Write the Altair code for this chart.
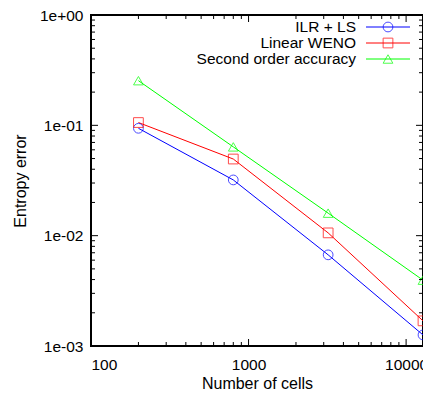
import altair as alt
import pandas as pd

# ---- data ----
cells = [200, 800, 3200, 12800]
ilr_ls = [0.094, 0.032, 0.0067, 0.00126]
linear_weno = [0.106, 0.0495, 0.0106, 0.00169]
second_order = [0.254, 0.0638, 0.016, 0.00395]

series_names = ["ILR + LS", "Linear WENO", "Second order accuracy"]
series_colors = ["#0000ff", "#ff0000", "#00ff00"]
point_shapes = ["circle", "square", "triangle-up"]

x_major = [100, 1000, 10000]
x_minor = [200, 300, 400, 500, 600, 700, 800, 900,
           2000, 3000, 4000, 5000, 6000, 7000, 8000, 9000]
y_major = [0.001, 0.01, 0.1, 1]
y_minor = [0.002, 0.003, 0.004, 0.005, 0.006, 0.007, 0.008, 0.009,
           0.02, 0.03, 0.04, 0.05, 0.06, 0.07, 0.08, 0.09,
           0.2, 0.3, 0.4, 0.5, 0.6, 0.7, 0.8, 0.9]

rows = []
for name, vals in zip(series_names, [ilr_ls, linear_weno, second_order]):
    for c, v in zip(cells, vals):
        rows.append({"cells": c, "error": v, "series": name})
df = pd.DataFrame(rows)
legend_df = pd.DataFrame({"series": series_names})

FONT = "Liberation Sans"
FS = 15.5
XDOM = [100, 12800]
YDOM = [0.001, 1]
W, H = 332, 331
MAJ = 7
MIN = 4


def xscale():
    return alt.Scale(type="log", domain=XDOM, nice=False, zero=False)


def yscale():
    return alt.Scale(type="log", domain=YDOM, nice=False, zero=False)


color_scale = alt.Scale(domain=series_names, range=series_colors)
shape_scale = alt.Scale(domain=series_names, range=point_shapes)
base = alt.Chart(df)

lines = base.mark_line(strokeWidth=1, clip=True).encode(
    x=alt.X("cells:Q", scale=xscale(), axis=alt.Axis(
        values=x_major, format="d", ticks=False, tickSize=0, domain=False, grid=False,
        labelPadding=11, title="Number of cells", titlePadding=3)),
    y=alt.Y("error:Q", scale=yscale(), axis=alt.Axis(
        values=y_major, ticks=False, tickSize=0, domain=False, grid=False,
        labelExpr="datum.value >= 1 ? '1e+00' : '1e-0' + format(-log(datum.value)/LN10, '.0f')",
        labelPadding=8, title="Entropy error", titlePadding=11)),
    color=alt.Color("series:N", scale=color_scale, legend=None),
)

points = base.mark_point(filled=False, size=95, strokeWidth=1, clip=True).encode(
    x=alt.X("cells:Q", scale=xscale(), axis=None),
    y=alt.Y("error:Q", scale=yscale(), axis=None),
    color=alt.Color("series:N", scale=color_scale, legend=None),
    shape=alt.Shape("series:N", scale=shape_scale, legend=None),
)

# ---- inward tick marks on all four sides (gnuplot style) ----
tick_layers = []
for vals, length in [(x_major, MAJ), (x_minor, MIN)]:
    tdf = pd.DataFrame({"v": vals})
    xv = alt.X("v:Q", scale=xscale(), axis=None)
    tick_layers.append(alt.Chart(tdf).mark_rule(color="black", strokeWidth=1).encode(
        x=xv, y=alt.value(H), y2=alt.value(H - length)))
    tick_layers.append(alt.Chart(tdf).mark_rule(color="black", strokeWidth=1).encode(
        x=xv, y=alt.value(0), y2=alt.value(length)))
for vals, length in [(y_major, MAJ), (y_minor, MIN)]:
    tdf = pd.DataFrame({"v": vals})
    yv = alt.Y("v:Q", scale=yscale(), axis=None)
    tick_layers.append(alt.Chart(tdf).mark_rule(color="black", strokeWidth=1).encode(
        y=yv, x=alt.value(0), x2=alt.value(length)))
    tick_layers.append(alt.Chart(tdf).mark_rule(color="black", strokeWidth=1).encode(
        y=yv, x=alt.value(W), x2=alt.value(W - length)))

# ---- key (gnuplot style: text, then line sample with marker) ----
key_y = alt.Y("series:N", scale=alt.Scale(type="point", domain=series_names, range=[12, 44], padding=0), axis=None)
key_base = alt.Chart(legend_df)

key_lines = key_base.mark_rule(strokeWidth=1).encode(
    x=alt.value(275), x2=alt.value(319), y=key_y,
    color=alt.Color("series:N", scale=color_scale, legend=None),
)
key_points = key_base.mark_point(filled=False, size=95, strokeWidth=1).encode(
    x=alt.value(297), y=key_y,
    color=alt.Color("series:N", scale=color_scale, legend=None),
    shape=alt.Shape("series:N", scale=shape_scale, legend=None),
)
key_text = key_base.mark_text(align="right", baseline="middle", font=FONT, fontSize=FS, color="black").encode(
    x=alt.value(265), y=key_y, text="series:N",
)

chart = alt.layer(lines, points, *tick_layers, key_lines, key_points, key_text).resolve_scale(
    x="independent", y="independent", color="independent", shape="independent"
).properties(
    width=W, height=H,
    background="white",
    autosize=alt.AutoSizeParams(type="none"),
    padding={"left": 83, "top": 7, "right": 0, "bottom": 45},
).configure_view(
    stroke="black", strokeWidth=2, fill="white"
).configure_axis(
    labelFont=FONT, labelFontSize=FS, labelColor="black",
    titleFont=FONT, titleFontSize=16, titleColor="black", titleFontWeight="normal",
)

chart.save("out.html", embed_options={"renderer": "svg", "actions": False})
